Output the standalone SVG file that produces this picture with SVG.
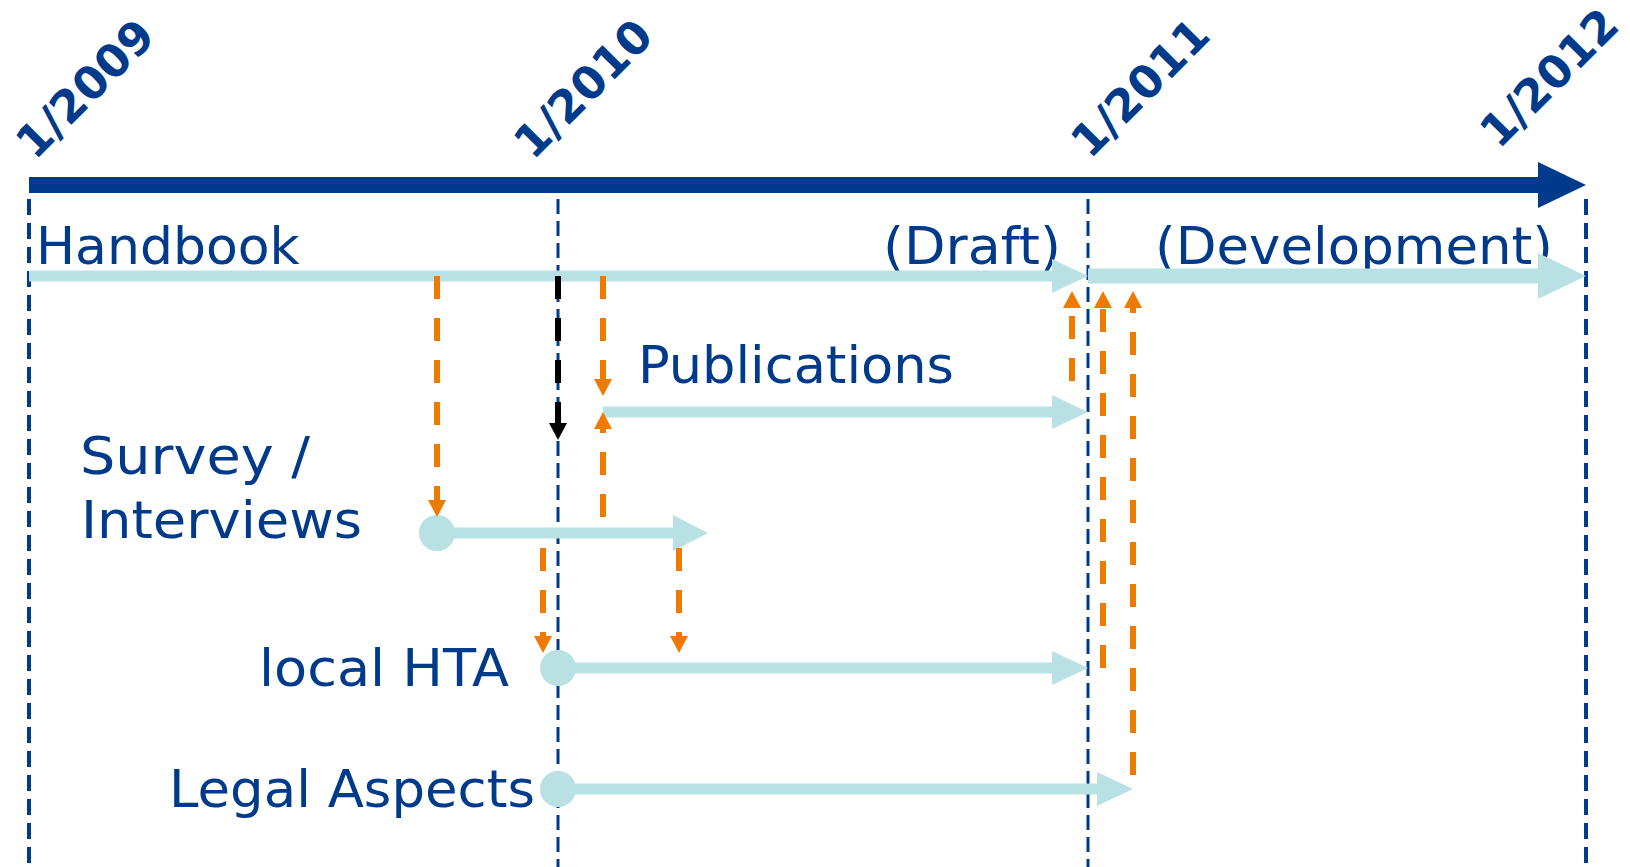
<svg xmlns="http://www.w3.org/2000/svg" width="1630" height="867" viewBox="0 0 1630 867">
<style>
  .lbl { font-family: "DejaVu Sans", Verdana, sans-serif; font-size: 52px; fill: #003A8A; }
  .yr { font-family: "DejaVu Sans", Verdana, sans-serif; font-size: 45px; font-weight: bold; fill: #003A8A; }
  .vthick { stroke: #003A8A; stroke-width: 4; stroke-dasharray: 16 8; fill: none; }
  .vthin { stroke: #003A8A; stroke-width: 3; stroke-dasharray: 15 7; fill: none; }
  .bar { stroke: #B9E0E3; stroke-width: 11; fill: none; }
  .barw { stroke: #B9E0E3; stroke-width: 15; fill: none; }
  .head { fill: #B9E0E3; }
  .dot { fill: #B9E0E3; }
  .or { stroke: #EE7A00; stroke-width: 6; stroke-dasharray: 23 19; fill: none; marker-end: url(#ah-or); }
  .bk { stroke: #000000; stroke-width: 6; stroke-dasharray: 23 19; fill: none; marker-end: url(#ah-bk); }
</style>
<defs>
  <marker id="ah-or" markerUnits="userSpaceOnUse" viewBox="0 -10 20 20" refX="0" refY="0" markerWidth="20" markerHeight="20" orient="auto" overflow="visible">
    <path d="M0,-9 L17,0 L0,9 z" fill="#EE7A00"/>
  </marker>
  <marker id="ah-bk" markerUnits="userSpaceOnUse" viewBox="0 -10 20 20" refX="0" refY="0" markerWidth="20" markerHeight="20" orient="auto" overflow="visible">
    <path d="M0,-9 L17,0 L0,9 z" fill="#000000"/>
  </marker>
</defs>
<rect width="1630" height="867" fill="#FFFFFF"/>

<g id="timeline-axis">
  <line x1="29" y1="185" x2="1540" y2="185" stroke="#003A8A" stroke-width="16"/>
  <polygon points="1538,162 1586,185 1538,208" fill="#003A8A"/>
  <line class="vthick" x1="29" y1="199" x2="29" y2="867"/>
  <line class="vthin" x1="558" y1="199" x2="558" y2="867"/>
  <line class="vthin" x1="1088" y1="199" x2="1088" y2="867"/>
  <line class="vthick" x1="1586" y1="199" x2="1586" y2="867"/>
  <text class="yr" transform="translate(35,161) rotate(-45)">1/2009</text>
  <text class="yr" transform="translate(533,161) rotate(-45)">1/2010</text>
  <text class="yr" transform="translate(1090,160) rotate(-45)">1/2011</text>
  <text class="yr" transform="translate(1499,150) rotate(-45)">1/2012</text>
</g>

<g id="handbook">
  <text class="lbl" x="36" y="264">Handbook</text>
  <text class="lbl" x="883" y="264" textLength="178" lengthAdjust="spacingAndGlyphs">(Draft)</text>
  <line class="bar" x1="29" y1="276" x2="1053" y2="276"/>
  <polygon class="head" points="1052,259 1088,276 1052,293"/>
</g>

<g id="development">
  <text class="lbl" x="1155" y="264" textLength="398" lengthAdjust="spacingAndGlyphs">(Development)</text>
  <line class="barw" x1="1088" y1="276" x2="1539" y2="276"/>
  <polygon class="head" points="1538,253 1586,276 1538,299"/>
</g>

<g id="publications">
  <text class="lbl" x="638" y="383" textLength="316" lengthAdjust="spacingAndGlyphs">Publications</text>
  <line class="bar" x1="603" y1="412" x2="1053" y2="412"/>
  <polygon class="head" points="1052,395 1088,412 1052,429"/>
</g>

<g id="survey">
  <text class="lbl" x="80" y="474" textLength="230" lengthAdjust="spacingAndGlyphs">Survey /</text>
  <text class="lbl" x="81" y="538" textLength="281" lengthAdjust="spacingAndGlyphs">Interviews</text>
  <line class="bar" x1="437" y1="533" x2="674" y2="533"/>
  <circle class="dot" cx="437" cy="533" r="18"/>
  <polygon class="head" points="673,515 708,533 673,551"/>
</g>

<g id="local-hta">
  <text class="lbl" x="509" y="686" text-anchor="end" textLength="250" lengthAdjust="spacingAndGlyphs">local HTA</text>
  <line class="bar" x1="558" y1="668" x2="1053" y2="668"/>
  <circle class="dot" cx="558" cy="668" r="18"/>
  <polygon class="head" points="1052,651 1088,668 1052,685"/>
</g>

<g id="legal-aspects">
  <text class="lbl" x="535" y="807" text-anchor="end" textLength="366" lengthAdjust="spacingAndGlyphs">Legal Aspects</text>
  <line class="bar" x1="558" y1="789" x2="1098" y2="789"/>
  <circle class="dot" cx="558" cy="789" r="18"/>
  <polygon class="head" points="1097,772 1133,789 1097,806"/>
</g>

<g id="connectors">
  <path class="or" d="M437,276 L437,500"/>
  <path class="bk" d="M558,276 L558,423"/>
  <path class="or" d="M603,276 L603,379"/>
  <path class="or" d="M603,517 L603,429"/>
  <path class="or" d="M543,548 L543,636"/>
  <path class="or" d="M679,548 L679,636"/>
  <path class="or" d="M1072,381 L1072,308"/>
  <path class="or" d="M1103,668 L1103,308"/>
  <path class="or" d="M1133,775 L1133,308"/>
</g>
</svg>
